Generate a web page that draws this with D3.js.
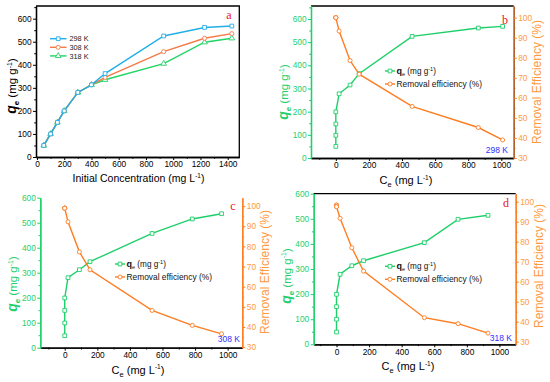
<!DOCTYPE html>
<html><head><meta charset="utf-8">
<script src="https://cdn.jsdelivr.net/npm/d3@7"></script>
<style>body{margin:0;background:#fff} svg{display:block}</style>
</head><body>
<svg id="c" width="550" height="382"></svg>
<script>
// ---------- data ----------
const concA = [50,100,150,200,300,400,500,930,1230,1430];
const q298 = [50,100,150,200,280,313,362,525,562,568];
const q308 = [50,100,150,200,280,313,345,457,515,535];
const q318 = [50,100,150,200,280,313,335,405,498,515];
const seriesNamesA = ["298 K","308 K","318 K"];

const ceB = [0,0,0,0,20,86,141,461,861,1008];
const qB  = [50,98,147,199,277,315,364,525,561,568];
const reB = [100,100,100,100,93.3,78.6,71.8,55.7,45.2,39.0];

const ceC = [0,0,0,0,20,90,155,536,783,963];
const qC  = [48,99,149,199,280,312,344,457,515,536];
const reC = [99,99,99,99,92.2,77.3,68.4,48.2,40.8,36.6];

const ceD = [0,0,0,0,22,94,166,539,746,930];
const qD  = [49,100,150,199,279,313,333,405,498,514];
const reD = [98.3,98.3,97.5,97.5,91.7,77,65.3,42,39,34.3];

const xTicksA = [0,200,400,600,800,1000,1200,1400];
const yTicksA = [0,100,200,300,400,500,600];
const xTicksCe = [0,200,400,600,800,1000];
const yTicksQ = [0,100,200,300,400,500,600];
const yTicksRE = [30,40,50,60,70,80,90,100];

// ---------- styles ----------
const FONT = "'Liberation Sans', Arial, sans-serif";
const SERIF = "'Liberation Serif', 'Times New Roman', serif";
const GREEN = "#1ecf6a", ORANGE = "#ff7d22", ORANGE_TXT = "#ff9a3c";
const CYAN = "#22aee8", ORANGE_A = "#f47a48", GREEN_A = "#22d466";
const BLUE = "#2f2fff", RED = "#e8141e";
const fmt = d3.format("d");

const svg = d3.select("#c");

function addAxis(g, axis, color, tickColor, fontColor){
  const a = g.call(axis);
  a.select(".domain").attr("stroke", color).attr("stroke-width", 1.3);
  a.selectAll(".tick line").attr("stroke", tickColor).attr("stroke-width", 1);
  a.selectAll(".tick text").attr("fill", fontColor).style("font-family", FONT).style("font-size", "8.3px");
  return a;
}

function minorVals(majors, step){
  const out = [];
  const lo = majors[0]-step, hi = majors[majors.length-1]+step;
  for (let v = lo; v <= hi; v += step*2) out.push(v);
  return out;
}

function qLabel(sel, size){
  sel.append("tspan").text("q").style("font-weight","bold").style("font-style","italic").style("font-size",(size+2.5)+"px");
  sel.append("tspan").text("e").attr("dy", 3).style("font-size",(size-3.5)+"px").style("font-weight","bold");
  sel.append("tspan").text(" (mg g").attr("dy", -3);
  sel.append("tspan").text("-1").attr("dy", -4.5).style("font-size",(size-4.5)+"px");
  sel.append("tspan").text(")").attr("dy", 4.5);
}

function ceLabel(sel, size){
  sel.append("tspan").text("C");
  sel.append("tspan").text("e").attr("dy", 3).style("font-size",(size-3.5)+"px");
  sel.append("tspan").text(" (mg L").attr("dy", -3);
  sel.append("tspan").text("-1").attr("dy", -4.5).style("font-size",(size-4.5)+"px");
  sel.append("tspan").text(")").attr("dy", 4.5);
}

function marker(g, type, cx, cy, color){
  const sym = type === "square" ? d3.symbolSquare : type === "circle" ? d3.symbolCircle : d3.symbolTriangle;
  const size = type === "square" ? 14 : type === "circle" ? 13 : 14;
  g.append("path").attr("d", d3.symbol().type(sym).size(size)())
    .attr("transform", `translate(${cx},${cy})`)
    .attr("fill", "#fff").attr("stroke", color).attr("stroke-width", 0.9);
}

function series(g, xs, ys, x, y, color, type){
  const pts = xs.map((v,i)=>[x(v), y(ys[i])]);
  g.append("path").attr("d", d3.line()(pts)).attr("fill","none").attr("stroke", color).attr("stroke-width", 1.4);
  pts.forEach(p => marker(g, type, p[0], p[1], color));
}

// ---------- panel a ----------
(function(){
  const x0=36, x1=239.3, y0=6, y1=157;
  const x = d3.scaleLinear().domain([-7,1485]).range([x0,x1]);
  const y = d3.scaleLinear().domain([0,655]).range([y1,y0]);
  const g = svg.append("g");
  g.append("path").attr("d",`M${x0},${y0}H${x1}V${y1}`).attr("fill","none").attr("stroke","#000").attr("stroke-width",1.3);
  addAxis(g.append("g").attr("transform",`translate(0,${y1})`),
    d3.axisBottom(x).tickValues(minorVals(xTicksA,100).filter(v=>v>0&&v<1480)).tickSize(1.8).tickSizeOuter(0).tickFormat(""),"#000","#000","#000");
  addAxis(g.append("g").attr("transform",`translate(0,${y1})`),
    d3.axisBottom(x).tickValues(xTicksA).tickFormat(fmt).tickSize(3).tickPadding(1.5).tickSizeOuter(0),"#000","#000","#000");
  addAxis(g.append("g").attr("transform",`translate(${x0},0)`),
    d3.axisLeft(y).tickValues(minorVals(yTicksA,50).filter(v=>v>0&&v<655)).tickSize(1.8).tickSizeOuter(0).tickFormat(""),"#000","#000","#000");
  addAxis(g.append("g").attr("transform",`translate(${x0},0)`),
    d3.axisLeft(y).tickValues(yTicksA).tickFormat(fmt).tickSize(3).tickPadding(1.5).tickSizeOuter(0),"#000","#000","#000");

  const cols=[CYAN,ORANGE_A,GREEN_A], types=["square","circle","triangle"], data=[q298,q308,q318];
  [2,1,0].forEach(i=>series(g, concA, data[i], x, y, cols[i], types[i]));

  // legend
  seriesNamesA.forEach((n,i)=>{
    const ly = 38.7 + i*8.6;
    g.append("line").attr("x1",50).attr("x2",66.5).attr("y1",ly).attr("y2",ly).attr("stroke",cols[i]).attr("stroke-width",1.4);
    marker(g, types[i], 58.2, ly, cols[i]);
    g.append("text").attr("x",69.5).attr("y",ly+2.6).text(n).style("font-family",FONT).style("font-size","7.3px").attr("fill","#222");
  });
  g.append("text").attr("x",229).attr("y",19).attr("text-anchor","middle").text("a")
    .style("font-family",SERIF).style("font-size","12px").attr("fill",RED);

  const yl = g.append("text").attr("transform",`translate(16,86) rotate(-90)`).attr("text-anchor","middle")
    .style("font-family",FONT).style("font-size","11.5px").attr("fill","#000");
  qLabel(yl, 11.5);
  g.append("text").attr("x",138.5).attr("y",182).attr("text-anchor","middle")
    .style("font-family",FONT).style("font-size","10.5px").attr("fill","#000")
    .call(s=>{ s.append("tspan").text("Initial Concentration (mg L"); s.append("tspan").text("-1").attr("dy",-4).style("font-size","6.5px"); s.append("tspan").text(")").attr("dy",4); });
})();

// ---------- panels b, c, d ----------
function cePanel(cfg){
  const {x0,x1,y0,y1} = cfg;
  const x = d3.scaleLinear().domain(cfg.xDom).range([x0,x1]);
  const yL = d3.scaleLinear().domain(cfg.yLDom).range([y1,y0]);
  const yR = d3.scaleLinear().domain(cfg.yRDom).range([y1,y0]);
  const g = svg.append("g");
  if (cfg.top) g.append("line").attr("x1",x0).attr("x2",x1).attr("y1",y0).attr("y2",y0).attr("stroke","#000").attr("stroke-width",1.3);

  addAxis(g.append("g").attr("transform",`translate(0,${y1})`),
    d3.axisBottom(x).tickValues(minorVals(xTicksCe,100).filter(v=>v>cfg.xDom[0]&&v<cfg.xDom[1])).tickSize(1.8).tickSizeOuter(0).tickFormat(""),"#000","#000","#000");
  addAxis(g.append("g").attr("transform",`translate(0,${y1})`),
    d3.axisBottom(x).tickValues(xTicksCe).tickFormat(fmt).tickSize(3).tickPadding(1.5).tickSizeOuter(0),"#000","#000","#000");

  addAxis(g.append("g").attr("transform",`translate(${x0},0)`),
    d3.axisLeft(yL).tickValues(minorVals(yTicksQ,50).filter(v=>v>0&&v<cfg.yLDom[1])).tickSize(1.8).tickSizeOuter(0).tickFormat(""),GREEN,GREEN,GREEN);
  addAxis(g.append("g").attr("transform",`translate(${x0},0)`),
    d3.axisLeft(yL).tickValues(yTicksQ).tickFormat(fmt).tickSize(3).tickPadding(1.5).tickSizeOuter(0),GREEN,GREEN,GREEN);

  addAxis(g.append("g").attr("transform",`translate(${x1},0)`),
    d3.axisRight(yR).tickValues(minorVals(yTicksRE,5).filter(v=>v>cfg.yRDom[0]&&v<cfg.yRDom[1])).tickSize(1.8).tickSizeOuter(0).tickFormat(""),cfg.rightLine,ORANGE,ORANGE_TXT);
  addAxis(g.append("g").attr("transform",`translate(${x1},0)`),
    d3.axisRight(yR).tickValues(yTicksRE).tickFormat(fmt).tickSize(3).tickPadding(1.5).tickSizeOuter(0),cfg.rightLine,ORANGE,ORANGE_TXT);

  series(g, cfg.ce, cfg.q, x, yL, GREEN, "square");
  series(g, cfg.ce, cfg.re, x, yR, ORANGE, "circle");

  // legend
  const lx = cfg.legX, ly = cfg.legY;
  g.append("line").attr("x1",lx).attr("x2",lx+10).attr("y1",ly).attr("y2",ly).attr("stroke",GREEN).attr("stroke-width",1.4);
  marker(g,"square",lx+5,ly,GREEN);
  const t1 = g.append("text").attr("x",lx+11.5).attr("y",ly+2.5).style("font-family",FONT).style("font-size","8.2px").attr("fill","#111");
  t1.append("tspan").text("q").style("font-weight","bold").style("font-size","9px");
  t1.append("tspan").text("e").attr("dy",2).style("font-size","5.5px");
  t1.append("tspan").text(" (mg g").attr("dy",-2);
  t1.append("tspan").text("-1").attr("dy",-3).style("font-size","5.5px");
  t1.append("tspan").text(")").attr("dy",3);
  const ly2 = ly + 13;
  g.append("line").attr("x1",lx).attr("x2",lx+10).attr("y1",ly2).attr("y2",ly2).attr("stroke",ORANGE).attr("stroke-width",1.4);
  marker(g,"circle",lx+5,ly2,ORANGE);
  g.append("text").attr("x",lx+11.5).attr("y",ly2+2.5).text("Removal efficiency (%)").style("font-family",FONT).style("font-size","8.4px").attr("fill","#111");

  g.append("text").attr("x",cfg.tempX).attr("y",cfg.tempY).attr("text-anchor","end").text(cfg.temp)
    .style("font-family",FONT).style("font-size","8.5px").attr("fill",BLUE);
  g.append("text").attr("x",cfg.letX).attr("y",cfg.letY).attr("text-anchor","middle").text(cfg.letter)
    .style("font-family",SERIF).style("font-size","12px").attr("fill",RED);

  const yl = g.append("text").attr("transform",`translate(${x0-23},${cfg.qLabY}) rotate(-90)`).attr("text-anchor","middle")
    .style("font-family",FONT).style("font-size","11.5px").attr("fill",GREEN);
  qLabel(yl, 11.5);
  g.append("text").attr("transform",`translate(${x1+27},${cfg.reLabY}) rotate(-90)`).attr("text-anchor","middle")
    .text("Removal Efficiency (%)").style("font-family",FONT).style("font-size","12px").attr("fill",ORANGE_TXT);
  const xl = g.append("text").attr("x",cfg.xLabX).attr("y",y1+26).attr("text-anchor","middle")
    .style("font-family",FONT).style("font-size","11px").attr("fill","#000");
  ceLabel(xl, 11);
}

cePanel({x0:311,x1:513.7,y0:6,y1:158,xDom:[-150,1075],yLDom:[0,656],yRDom:[30,105.8],
  ce:ceB,q:qB,re:reB,top:true,rightLine:"#b0602a",legX:385,legY:71,temp:"298 K",tempX:508,tempY:153,
  letter:"b",letX:505,letY:24,qLabY:92,reLabY:82,xLabX:406});
cePanel({x0:40.3,x1:242.3,y0:197.7,y1:347.7,xDom:[-150,1090],yLDom:[0,600],yRDom:[29.7,104.2],
  ce:ceC,q:qC,re:reC,top:false,rightLine:ORANGE,legX:115,legY:264,temp:"308 K",tempX:240,tempY:342,
  letter:"c",letX:233,letY:210,qLabY:284,reLabY:272,xLabX:138});
cePanel({x0:313.7,x1:515.7,y0:193.7,y1:344.3,xDom:[-140,1100],yLDom:[0,600],yRDom:[28.7,104],
  ce:ceD,q:qD,re:reD,top:true,rightLine:ORANGE,legX:385,legY:266.3,temp:"318 K",tempX:512,tempY:341,
  letter:"d",letX:506,letY:207,qLabY:276,reLabY:266,xLabX:408});
</script>
</body></html>
